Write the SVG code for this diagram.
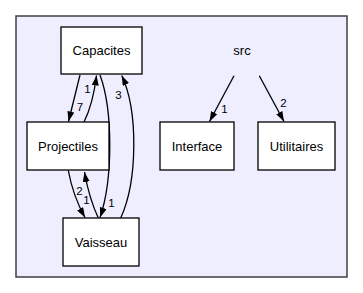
<svg xmlns="http://www.w3.org/2000/svg" width="363" height="293" viewBox="0 0 363 293">
  <style>
    .cluster { fill: #eeeeff; stroke: #404040; stroke-width: 1.5; }
    .node rect { fill: #ffffff; stroke: #000000; stroke-width: 1.3; }
    text { font-family: "Liberation Sans", Arial, sans-serif; fill: #000000; }
    .lbl { font-size: 13px; text-anchor: middle; }
    .elbl { font-size: 11.5px; text-anchor: middle; }
    .edge { fill: none; stroke: #000000; stroke-width: 1.3; marker-end: url(#arrow); }
  </style>
  <defs>
    <marker id="arrow" viewBox="0 0 10 7" refX="10" refY="3.5" markerWidth="10" markerHeight="7" markerUnits="userSpaceOnUse" orient="auto">
      <path d="M0,0 L10,3.5 L0,7 Z" fill="#000000"/>
    </marker>
  </defs>

  <!-- directory cluster -->
  <g id="cluster_src">
    <rect class="cluster" x="16" y="16" width="331" height="261"/>
    <text class="lbl" x="242" y="54.5">src</text>
  </g>

  <!-- dependency edges -->
  <g id="edges">
    <path class="edge" d="M80,75 L68.5,121.5"/>
    <text class="elbl" x="80" y="110.5">7</text>

    <path class="edge" d="M84,122 Q93,104 96.5,75.5"/>
    <text class="elbl" x="87.5" y="93">1</text>

    <path class="edge" d="M120.7,218 C138,180 138,110 121.7,75.5"/>
    <text class="elbl" x="118.5" y="99">3</text>

    <path class="edge" d="M100,75 C113,110 113,180 100,217.5"/>
    <text class="elbl" x="111.5" y="206.5">1</text>

    <path class="edge" d="M68.3,170.5 Q73,196 85,217.5"/>
    <text class="elbl" x="86.5" y="204">1</text>

    <path class="edge" d="M98.3,218 Q89,198 84.5,172"/>
    <text class="elbl" x="79.5" y="194.5">2</text>

    <path class="edge" d="M234,75.7 L209.5,121.5"/>
    <text class="elbl" x="224.5" y="113">1</text>

    <path class="edge" d="M259.3,75.7 L284,121.5"/>
    <text class="elbl" x="283.5" y="106.5">2</text>
  </g>

  <!-- directories -->
  <g id="node_Capacites" class="node">
    <rect x="61" y="27" width="81" height="47"/>
    <text class="lbl" x="101.5" y="55">Capacites</text>
  </g>
  <g id="node_Projectiles" class="node">
    <rect x="27" y="122" width="82" height="48"/>
    <text class="lbl" x="68" y="150.5">Projectiles</text>
  </g>
  <g id="node_Vaisseau" class="node">
    <rect x="63" y="218" width="76" height="48"/>
    <text class="lbl" x="101" y="246.5">Vaisseau</text>
  </g>
  <g id="node_Interface" class="node">
    <rect x="160" y="122" width="74" height="48"/>
    <text class="lbl" x="197" y="150.5">Interface</text>
  </g>
  <g id="node_Utilitaires" class="node">
    <rect x="258" y="122" width="77" height="48"/>
    <text class="lbl" x="296.5" y="150.5">Utilitaires</text>
  </g>
</svg>
